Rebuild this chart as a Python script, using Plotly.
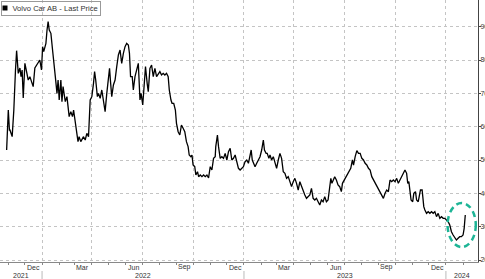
import plotly.graph_objects as go

dates = [
"2021-10-29","2021-11-01","2021-11-03","2021-11-04","2021-11-08","2021-11-11","2021-11-14","2021-11-16","2021-11-19","2021-11-22",
"2021-11-24","2021-11-26","2021-11-28","2021-12-01","2021-12-04","2021-12-07","2021-12-10","2021-12-13","2021-12-16","2021-12-19",
"2021-12-22","2021-12-25","2021-12-28","2021-12-31","2022-01-02","2022-01-04","2022-01-08","2022-01-10","2022-01-12","2022-01-14",
"2022-01-17","2022-01-20","2022-01-23","2022-01-25","2022-01-28","2022-01-30","2022-02-01","2022-02-04","2022-02-06","2022-02-08",
"2022-02-12","2022-02-15","2022-02-17","2022-02-19","2022-02-22","2022-02-25","2022-02-27","2022-03-02","2022-03-05","2022-03-07",
"2022-03-09","2022-03-12","2022-03-17","2022-03-20","2022-03-23","2022-03-26","2022-03-29","2022-04-01","2022-04-04","2022-04-06",
"2022-04-08","2022-04-11","2022-04-13","2022-04-16","2022-04-19","2022-04-22","2022-04-25","2022-04-28","2022-05-01","2022-05-03",
"2022-05-05","2022-05-07","2022-05-10","2022-05-13","2022-05-16","2022-05-19","2022-05-22","2022-05-25","2022-05-28","2022-05-31",
"2022-06-03","2022-06-06","2022-06-08","2022-06-10","2022-06-13","2022-06-15","2022-06-18","2022-06-21","2022-06-24","2022-06-27",
"2022-06-29","2022-07-02","2022-07-05","2022-07-07","2022-07-10","2022-07-12","2022-07-15","2022-07-18","2022-07-21","2022-07-24",
"2022-07-27","2022-07-30","2022-08-02","2022-08-05","2022-08-08","2022-08-11","2022-08-14","2022-08-17","2022-08-19","2022-08-22",
"2022-08-24","2022-08-27","2022-08-30","2022-09-01","2022-09-04","2022-09-07","2022-09-10","2022-09-13","2022-09-16","2022-09-19",
"2022-09-22","2022-09-24","2022-09-27","2022-09-29","2022-10-01","2022-10-04","2022-10-06","2022-10-09","2022-10-11","2022-10-14",
"2022-10-17","2022-10-20","2022-10-23","2022-10-26","2022-10-29","2022-11-01","2022-11-04","2022-11-07","2022-11-10","2022-11-11",
"2022-11-14","2022-11-16","2022-11-19","2022-11-22","2022-11-25","2022-11-28","2022-12-01","2022-12-04","2022-12-07","2022-12-10",
"2022-12-13","2022-12-16","2022-12-19","2022-12-22","2022-12-25","2022-12-28","2022-12-31","2023-01-03","2023-01-06","2023-01-09",
"2023-01-12","2023-01-14","2023-01-16","2023-01-19","2023-01-21","2023-01-24","2023-01-27","2023-01-30","2023-02-02","2023-02-05",
"2023-02-07","2023-02-10","2023-02-12","2023-02-15","2023-02-17","2023-02-20","2023-02-23","2023-02-26","2023-03-01","2023-03-04",
"2023-03-07","2023-03-10","2023-03-13","2023-03-16","2023-03-19","2023-03-22","2023-03-25","2023-03-28","2023-03-31","2023-04-03",
"2023-04-06","2023-04-09","2023-04-12","2023-04-15","2023-04-18","2023-04-21","2023-04-24","2023-04-27","2023-04-30","2023-05-03",
"2023-05-06","2023-05-09","2023-05-12","2023-05-15","2023-05-18","2023-05-21","2023-05-24","2023-05-27","2023-05-30","2023-06-02",
"2023-06-04","2023-06-07","2023-06-09","2023-06-11","2023-06-14","2023-06-17","2023-06-20","2023-06-23","2023-06-26","2023-06-28",
"2023-07-01","2023-07-04","2023-07-07","2023-07-10","2023-07-13","2023-07-16","2023-07-18","2023-07-21","2023-07-24","2023-07-27",
"2023-07-30","2023-08-02","2023-08-05","2023-08-08","2023-08-11","2023-08-14","2023-08-17","2023-08-20","2023-08-23","2023-08-26",
"2023-08-29","2023-09-01","2023-09-04","2023-09-07","2023-09-10","2023-09-13","2023-09-16","2023-09-19","2023-09-22","2023-09-25",
"2023-09-28","2023-10-01","2023-10-04","2023-10-07","2023-10-10","2023-10-13","2023-10-16","2023-10-19","2023-10-22","2023-10-24",
"2023-10-26","2023-10-28","2023-10-30","2023-11-02","2023-11-04","2023-11-07","2023-11-09","2023-11-12","2023-11-14","2023-11-16",
"2023-11-19","2023-11-20","2023-11-22","2023-11-24","2023-11-27","2023-11-30","2023-12-03","2023-12-06","2023-12-09","2023-12-12",
"2023-12-15","2023-12-18","2023-12-21","2023-12-24","2023-12-27","2023-12-30","2024-01-02","2024-01-05","2024-01-08","2024-01-11",
"2024-01-14","2024-01-17","2024-01-20","2024-01-23","2024-01-26","2024-01-29","2024-02-01","2024-02-03","2024-02-05",
]

prices = [
53,65,59,59,57,65,77,82.8,76,77.6,
75,77,68.6,79,76.5,74,75,73.5,72,77.6,
78.5,79.5,80,77,84,82.5,85,89,91.5,89,
88,83,77,75,70,74,68,74,67.5,72,
67.5,69,66,63,64.5,63,65,61,57.5,55.5,
57,55.5,57,56,58,57,68,69,73,76.5,
74,69,70,68.5,71,68,64.5,70,75,77.5,
73,69,72.5,74,78,81.5,83,79,82,84,
85,84.5,82,75,75,71,75,77.5,79,68,
70,66.5,75,78,73,70.5,77.5,78.5,75,77.5,
75,76,76.5,75.5,76,75.5,76,75,71,68,
67,67,65,61,58.5,57.5,60.5,59.5,58.5,55.5,
54,51.5,51,51.5,48.5,48,45.5,46.5,45,45.5,
45,45.5,45,45.5,44.6,48,47,50.5,51,54,
57.5,54,50.5,51,50.5,52,50,52.5,53.5,50,
50.5,51.5,49,47.5,47,47.5,48,49.5,50,49,
51,53,50,49,48,49,50,51,53,56,
53,52,52,50.5,51.5,50,51,49,47.5,50,
52,50.5,46.5,46,44.5,45,43.5,42,43.5,44.5,
43,41,43.5,42,40.5,39.5,38.5,39,39.5,41.5,
38.5,38,38.5,37.5,36.5,38,37.5,39,37.5,38,
41.5,44.5,43,44,45,44,42.5,42,40.5,43,
44,44.5,45.5,46.5,47.5,50,48.5,51,52.8,52,
52,50.5,50,49,48.5,47.5,47,45,44,43,
42,41,40,39,38.5,40,41,40.5,44,43.5,
44,43.5,44.5,43,44,45.5,46.5,47,46,43,
43.5,41,38,37.5,40,40.5,38,37.5,39,41,
41,38,36,35,34,34.5,34,34.5,34,34.5,
33,34,32.5,33,32.5,32.5,32,31.5,30.5,28.5,
27.5,26.5,26,26.5,27,27,27.5,29.5,33.5,
]

series_name = "Volvo Car AB - Last Price"
y_ticks = [20, 30, 40, 50, 60, 70, 80, 90]
quarter_starts = ["2022-01-01","2022-04-01","2022-07-01","2022-10-01",
                  "2023-01-01","2023-04-01","2023-07-01","2023-10-01","2024-01-01"]
month_label_dates = ["2021-12-16","2022-03-16","2022-06-15","2022-09-15","2022-12-16",
                     "2023-03-16","2023-06-15","2023-09-15","2023-12-16"]
month_labels = ["Dec","Mar","Jun","Sep","Dec","Mar","Jun","Sep","Dec"]
year_label_dates = ["2021-11-24","2022-07-02","2023-07-02","2024-01-30"]
year_labels = ["2021","2022","2023","2024"]
year_starts = ["2022-01-01","2023-01-01","2024-01-01"]

FONT = "Liberation Sans, Arial, sans-serif"
TXT = "#333333"

fig = go.Figure()
fig.add_trace(go.Scatter(x=dates, y=prices, mode="lines",
                         line=dict(color="black", width=1.3),
                         showlegend=False, hoverinfo="skip"))

shapes = [dict(type="circle", xref="x", yref="y",
               x0="2024-01-04", x1="2024-02-24", y0=23.9, y1=37.1,
               line=dict(color="#1DB596", width=2.5, dash="6px,4px"))]
for d in year_starts:
    shapes.append(dict(type="line", xref="x", yref="paper", ysizemode="pixel",
                       yanchor=0, x0=d, x1=d, y0=-9, y1=-17,
                       line=dict(color="#bbbbbb", width=1)))
# legend key square
shapes.append(dict(type="rect", xref="paper", yref="paper", xsizemode="pixel",
                   ysizemode="pixel", xanchor=0, yanchor=1,
                   x0=2.5, x1=7.5, y0=-5.5, y1=-10.5,
                   fillcolor="black", line=dict(width=0)))

annotations = [dict(x=0, y=1, xref="paper", yref="paper", xanchor="left", yanchor="top",
                    xshift=0.5, yshift=-0.5,
                    text="\u2007\u2007" + series_name, showarrow=False, align="left",
                    bordercolor="#999999", borderwidth=1, borderpad=2, bgcolor="rgba(255,255,255,0)",
                    font=dict(family=FONT, size=7.6, color=TXT))]
for d, t in zip(month_label_dates, month_labels):
    annotations.append(dict(x=d, y=0, xref="x", yref="paper", text=t, showarrow=False,
                            yshift=-5, yanchor="middle", xanchor="center",
                            font=dict(family=FONT, size=7, color=TXT)))
for d, t in zip(year_label_dates, year_labels):
    annotations.append(dict(x=d, y=0, xref="x", yref="paper", text=t, showarrow=False,
                            yshift=-13.5, yanchor="middle", xanchor="center",
                            font=dict(family=FONT, size=7, color=TXT)))

fig.update_layout(
    width=485, height=279,
    margin=dict(l=0, r=7, t=0, b=17, autoexpand=False),
    paper_bgcolor="white", plot_bgcolor="white",
    font=dict(family=FONT, size=7, color=TXT),
    showlegend=False,
    shapes=shapes, annotations=annotations,
    xaxis=dict(type="date", range=["2021-10-17", "2024-02-28"],
               tickvals=quarter_starts, showticklabels=False, automargin=False,
               ticks="outside", ticklen=2, tickcolor="#888888",
               showgrid=True, gridcolor="#c4c4c4", griddash="dot", gridwidth=1,
               showline=True, linecolor="#888888", linewidth=1,
               minor=dict(dtick="M1", tick0="2021-11-01", ticks="outside",
                          ticklen=2, tickcolor="#888888", showgrid=False),
               zeroline=False, fixedrange=True),
    yaxis=dict(side="right", range=[19.4, 98], tickvals=y_ticks, automargin=False,
               ticks="outside", ticklen=2, tickcolor="#444444", ticklabelstandoff=-2,
               showgrid=True, gridcolor="#c4c4c4", griddash="dot", gridwidth=1,
               showline=True, linecolor="#444444", linewidth=1,
               zeroline=False, tickfont=dict(family=FONT, size=7, color=TXT)),
)

fig.write_html("out.html")
